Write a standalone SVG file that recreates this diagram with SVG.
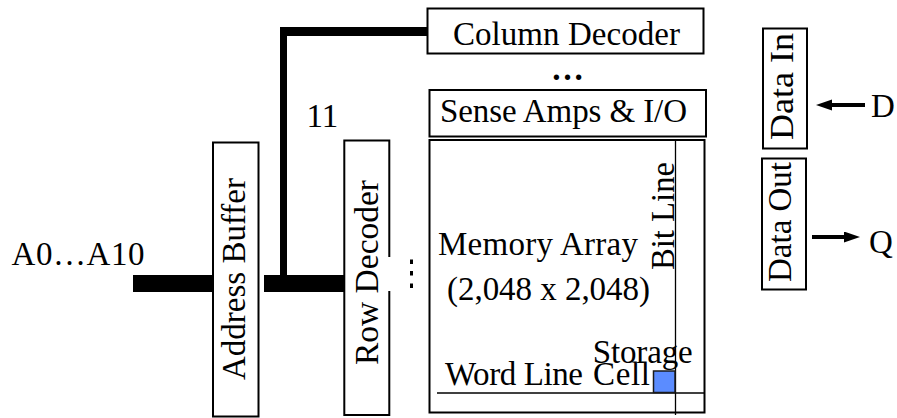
<svg xmlns="http://www.w3.org/2000/svg" width="897" height="418" viewBox="0 0 897 418">
<style>
  .t { font-family: 'Liberation Serif', 'DejaVu Serif', serif; font-size: 33px; fill: #000; }
  .box { fill: #fff; stroke: #000; stroke-width: 2; }
  .bus { fill: #000; stroke: none; }
  .thin { stroke: #000; stroke-width: 1.3; fill: none; }
  .arr { stroke: #000; stroke-width: 4; fill: none; }
</style>
<defs>
  <marker id="ah" markerUnits="userSpaceOnUse" markerWidth="17" markerHeight="12" refX="8" refY="5.5" orient="auto">
    <path d="M0,0 L16,5.5 L0,11 z" fill="#000"/>
  </marker>
</defs>
<rect width="897" height="418" fill="#fff"/>

<g id="connectors">
  <rect class="bus" x="133" y="275" width="80" height="17"/>
  <rect class="bus" x="264" y="275" width="80" height="17"/>
  <rect class="bus" x="280" y="27" width="7" height="250"/>
  <rect class="bus" x="280" y="27" width="147" height="9"/>
  <line class="arr" x1="865" y1="105" x2="824" y2="105" marker-end="url(#ah)"/>
  <line class="arr" x1="812" y1="237" x2="852" y2="237" marker-end="url(#ah)"/>
</g>

<g id="address-input">
  <text class="t" x="11.5" y="265" font-size="33.5" textLength="133">A0…A10</text>
</g>

<g id="bus-width">
  <text class="t" x="306.5" y="126.5">11</text>
</g>

<g id="address-buffer">
  <rect class="box" x="213" y="142.5" width="45.5" height="274"/>
  <text class="t" transform="translate(245,380) rotate(-90)" font-size="44" textLength="202" lengthAdjust="spacingAndGlyphs">Address Buffer</text>
</g>

<g id="row-decoder">
  <path d="M389.3,257 L389.3,140.5 L344.3,140.5 L344.3,415 L389.3,415 L389.3,291" fill="#fff" stroke="#000" stroke-width="2"/>
  <text class="t" transform="translate(378,365) rotate(-90)" font-size="40" textLength="185" lengthAdjust="spacingAndGlyphs">Row Decoder</text>
  <rect x="410" y="259.5" width="3" height="4.5" fill="#000"/>
  <rect x="410" y="271" width="3" height="4.5" fill="#000"/>
  <rect x="410" y="283.5" width="3" height="4.5" fill="#000"/>
</g>

<g id="column-decoder">
  <rect class="box" x="427.5" y="8.5" width="276" height="45"/>
  <text class="t" x="566.5" y="45" text-anchor="middle" textLength="227">Column Decoder</text>
  <text class="t" x="567.5" y="80" text-anchor="middle" font-size="40" font-weight="bold">…</text>
</g>

<g id="sense-amps">
  <rect class="box" x="429.5" y="90" width="276.5" height="46.5"/>
  <text class="t" x="563.5" y="121.7" text-anchor="middle" textLength="247">Sense Amps &amp; I/O</text>
</g>

<g id="memory-array">
  <rect class="box" x="429.5" y="140" width="275" height="272.5" stroke-width="2.6"/>
  <text class="t" x="438" y="255" textLength="200">Memory Array</text>
  <text class="t" x="447" y="300" textLength="203">(2,048 x 2,048)</text>
  <line class="thin" x1="675.5" y1="140" x2="675.5" y2="415"/>
  <line class="thin" x1="437" y1="393" x2="705" y2="393"/>
  <text class="t" transform="translate(673.5,270) rotate(-90)" textLength="108" lengthAdjust="spacingAndGlyphs">Bit Line</text>
  <text class="t" x="445" y="385" textLength="138">Word Line</text>
  <text class="t" x="592.7" y="363" textLength="100">Storage</text>
  <text class="t" x="593" y="385" textLength="57">Cell</text>
  <rect x="653.5" y="371" width="21.5" height="21.5" fill="#5B8CFF" stroke="#1a1a1a" stroke-width="1.5"/>
</g>

<g id="data-in">
  <rect class="box" x="763" y="28.5" width="44" height="120"/>
  <text class="t" transform="translate(792.5,140) rotate(-90)" textLength="107" lengthAdjust="spacingAndGlyphs">Data In</text>
</g>

<g id="data-out">
  <rect class="box" x="762" y="158.5" width="44" height="131"/>
  <text class="t" transform="translate(790.5,282) rotate(-90)" textLength="120" lengthAdjust="spacingAndGlyphs">Data Out</text>
</g>

<g id="pin-d">
  <text class="t" x="871" y="116.7">D</text>
</g>
<g id="pin-q">
  <text class="t" x="869" y="253">Q</text>
</g>
</svg>
